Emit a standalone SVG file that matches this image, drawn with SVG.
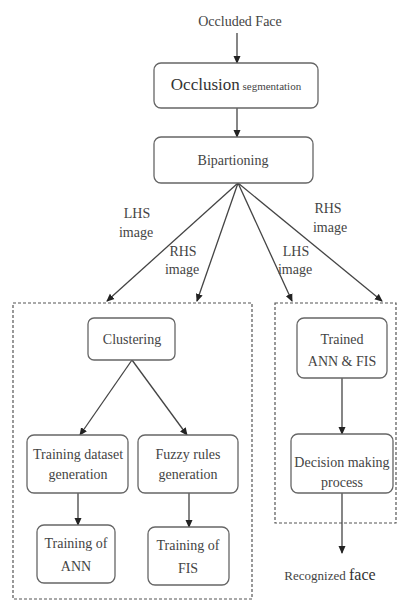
<svg xmlns="http://www.w3.org/2000/svg" width="398" height="601" viewBox="0 0 398 601">
<defs>
<marker id="ah" markerWidth="8" markerHeight="8" refX="7" refY="4" orient="auto" markerUnits="userSpaceOnUse">
<path d="M0,0.5 L8,4 L0,7.5 Z" fill="#222"/>
</marker>
<style>
.box{fill:#fff;stroke:#666;stroke-width:1.3}
.grp{fill:none;stroke:#555;stroke-width:1.2;stroke-dasharray:3,2}
.ln{fill:none;stroke:#444;stroke-width:1.3;marker-end:url(#ah)}
text{font-family:"Liberation Serif","Times New Roman",serif;fill:#444;text-anchor:middle;font-size:14px}
</style>
</defs>
<rect width="398" height="601" fill="#fff"/>
<g id="groups">
<rect class="grp" x="13" y="303" width="239" height="296"/>
<rect class="grp" x="275" y="303" width="121" height="220"/>
</g>
<g id="connectors">
<line class="ln" x1="237" y1="33" x2="237" y2="63"/>
<line class="ln" x1="237" y1="108" x2="237" y2="137"/>
<line class="ln" x1="238" y1="183" x2="107" y2="301"/>
<line class="ln" x1="238" y1="183" x2="197" y2="301"/>
<line class="ln" x1="238" y1="183" x2="292" y2="301"/>
<line class="ln" x1="238" y1="183" x2="382" y2="301"/>
<line class="ln" x1="132" y1="360" x2="80" y2="435"/>
<line class="ln" x1="132" y1="360" x2="187" y2="435"/>
<line class="ln" x1="78" y1="493" x2="78" y2="525"/>
<line class="ln" x1="189" y1="493" x2="189" y2="527"/>
<line class="ln" x1="342" y1="378" x2="342" y2="434"/>
<line class="ln" x1="342" y1="493" x2="342" y2="553"/>
<text x="137" y="218">LHS</text>
<text x="136" y="237">image</text>
<text x="183" y="256">RHS</text>
<text x="182" y="274">image</text>
<text x="296" y="256">LHS</text>
<text x="295" y="274">image</text>
<text x="328" y="213">RHS</text>
<text x="330" y="232">image</text>
</g>
<g id="n-input">
<text x="240" y="26" font-size="15" fill="#333">Occluded Face</text>
</g>
<g id="n-occlusion">
<rect class="box" x="154" y="63" width="164" height="45" rx="7"/>
<text x="236" y="90"><tspan font-size="17" fill="#333">Occlusion</tspan><tspan font-size="11"> segmentation</tspan></text>
</g>
<g id="n-bipartioning">
<rect class="box" x="154" y="137" width="159" height="46" rx="7"/>
<text x="233" y="165">Bipartioning</text>
</g>
<g id="n-clustering">
<rect class="box" x="88" y="318" width="87" height="42" rx="6"/>
<text x="132" y="344">Clustering</text>
</g>
<g id="n-training-dataset">
<rect class="box" x="27" y="435" width="101" height="58" rx="7"/>
<text x="78" y="459">Training dataset</text>
<text x="78" y="479">generation</text>
</g>
<g id="n-fuzzy-rules">
<rect class="box" x="138" y="435" width="100" height="58" rx="7"/>
<text x="188" y="459">Fuzzy rules</text>
<text x="188" y="479">generation</text>
</g>
<g id="n-training-ann">
<rect class="box" x="37" y="525" width="78" height="58" rx="7"/>
<text x="76" y="548">Training of</text>
<text x="76" y="571">ANN</text>
</g>
<g id="n-training-fis">
<rect class="box" x="148" y="527" width="81" height="58" rx="7"/>
<text x="188" y="550">Training of</text>
<text x="188" y="573">FIS</text>
</g>
<g id="n-trained">
<rect class="box" x="297" y="318" width="90" height="60" rx="7"/>
<text x="342" y="344">Trained</text>
<text x="342" y="366">ANN &amp; FIS</text>
</g>
<g id="n-decision">
<rect class="box" x="291" y="434" width="102" height="59" rx="7"/>
<text x="342" y="467">Decision making</text>
<text x="342" y="487">process</text>
</g>
<g id="n-output">
<text x="330" y="580"><tspan font-size="13">Recognized </tspan><tspan font-size="16" fill="#333">face</tspan></text>
</g>
</svg>
